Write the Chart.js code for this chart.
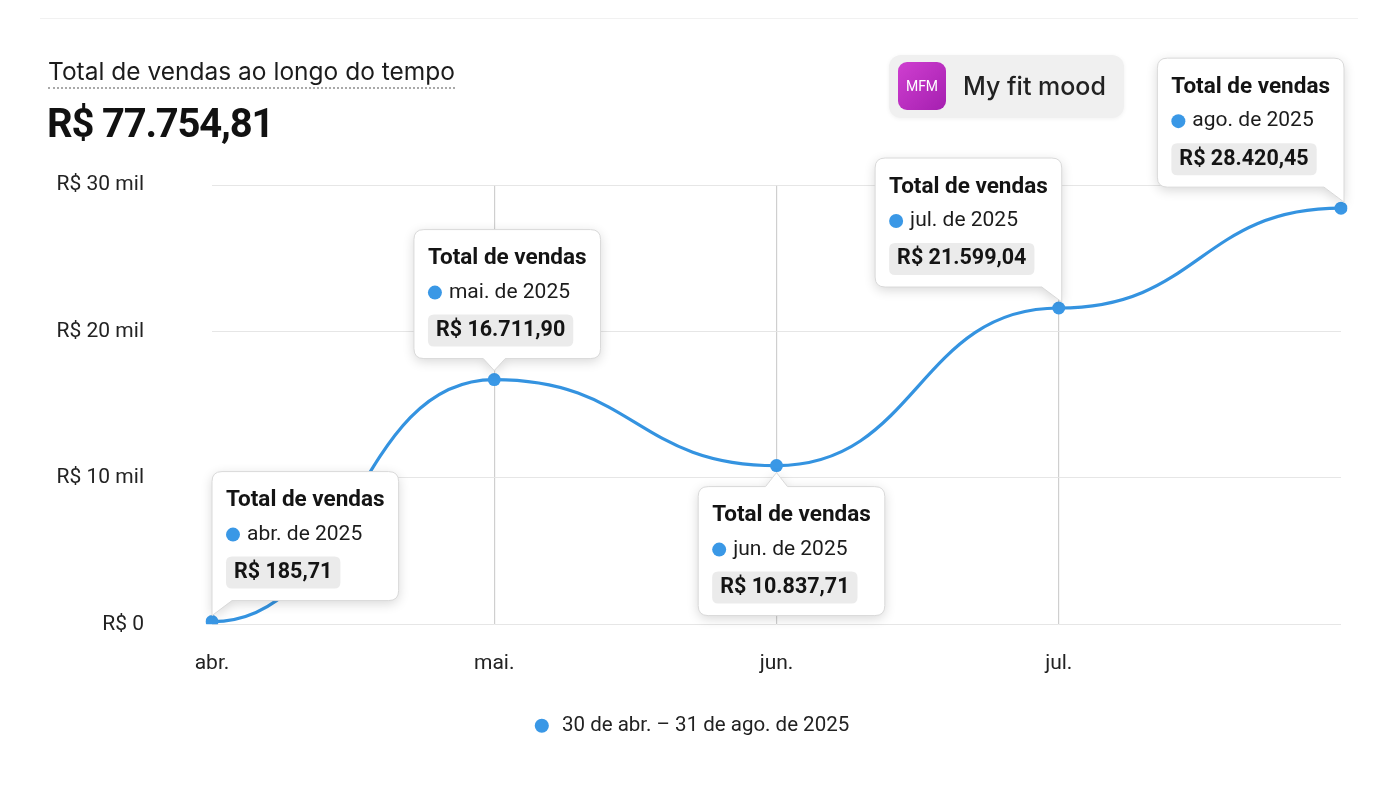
<!DOCTYPE html>
<html><head><meta charset="utf-8">
<script src="https://cdn.jsdelivr.net/npm/chart.js@4"></script>
<style>
html,body{margin:0;padding:0;background:#fff;}
body{width:1400px;height:788px;position:relative;overflow:hidden;font-family:Roboto,"Noto Sans",sans-serif;}
#card{position:absolute;left:40px;top:18px;width:1318px;height:760px;border-top:1px solid #f1f1f1;}
#wrap{position:absolute;left:0;top:0;width:1400px;height:788px;}
.title{position:absolute;left:48px;top:57px;font-family:Inter,Roboto,sans-serif;font-size:24.5px;color:#1c1c1c;border-bottom:2px dotted #a9a9a9;padding-bottom:2px;line-height:28px;}
.total{position:absolute;left:47px;top:100px;font-size:40px;font-weight:700;color:#111;letter-spacing:-1.2px;line-height:48px;}
.badge{position:absolute;left:889px;top:55px;width:235px;height:63px;background:#f0f0f0;border-radius:12px;box-shadow:0 1px 4px rgba(0,0,0,0.06);}
.badge .icon{position:absolute;left:9px;top:7px;width:48px;height:48px;border-radius:9px;background:linear-gradient(135deg,#cf3fd0,#a51fb0);color:#fff;font-size:14px;line-height:48px;text-align:center;}
.badge .name{position:absolute;left:74px;top:0;line-height:63px;font-family:Inter,Roboto,sans-serif;font-size:25px;color:#222;font-weight:500;}
</style></head>
<body>
<div id="card"></div>
<div id="wrap"><canvas id="c" width="1400" height="788"></canvas></div>
<div class="title">Total de vendas ao longo do tempo</div>
<div class="total">R$ 77.754,81</div>
<div class="badge"><div class="icon">MFM</div><div class="name">My fit mood</div></div>
<script>
const categories = ['abr. de 2025','mai. de 2025','jun. de 2025','jul. de 2025','ago. de 2025'];
const xTickLabels = ['abr.','mai.','jun.','jul.',''];
const salesValues = [185.71, 16711.90, 10837.71, 21599.04, 28420.45];
const yTickValues = [0, 10000, 20000, 30000];
const yTickLabels = ['R$ 0','R$ 10 mil','R$ 20 mil','R$ 30 mil'];
const seriesTitle = 'Total de vendas';
const legendLabel = '30 de abr. – 31 de ago. de 2025';

const tooltipPlacement = ['left-above','center-above','center-below','right-above','right-above'];

function brl(v){
  const parts = v.toFixed(2).split('.');
  const int = parts[0].replace(/\B(?=(\d{3})+(?!\d))/g,'.');
  return 'R$ ' + int + ',' + parts[1];
}

const BLUE = '#3a98e6';
const LINE = '#3493e0';
const FONT = 'Roboto, "Noto Sans", sans-serif';

function roundRectPath(ctx,x,y,w,h,r){
  ctx.beginPath();
  ctx.moveTo(x+r,y);ctx.lineTo(x+w-r,y);ctx.quadraticCurveTo(x+w,y,x+w,y+r);
  ctx.lineTo(x+w,y+h-r);ctx.quadraticCurveTo(x+w,y+h,x+w-r,y+h);
  ctx.lineTo(x+r,y+h);ctx.quadraticCurveTo(x,y+h,x,y+h-r);
  ctx.lineTo(x,y+r);ctx.quadraticCurveTo(x,y,x+r,y);ctx.closePath();
}

function boxPath(ctx,x,y,w,h,r,mode,px,tip){
  const b=y+h, R=x+w;
  ctx.beginPath();
  ctx.moveTo(x+r,y);
  if(mode==='center-below'){ctx.lineTo(px-11,y);ctx.lineTo(px,tip);ctx.lineTo(px+11,y);}
  ctx.lineTo(R-r,y);ctx.quadraticCurveTo(R,y,R,y+r);
  if(mode==='right-above'){ctx.lineTo(R,tip);ctx.lineTo(R-20,b);}
  else {ctx.lineTo(R,b-r);ctx.quadraticCurveTo(R,b,R-r,b);}
  if(mode==='center-above'){ctx.lineTo(px+11,b);ctx.lineTo(px,tip);ctx.lineTo(px-11,b);}
  if(mode==='left-above'){ctx.lineTo(x+20,b);ctx.lineTo(x,tip);}
  else {ctx.lineTo(x+r,b);ctx.quadraticCurveTo(x,b,x,b-r);}
  ctx.lineTo(x,y+r);ctx.quadraticCurveTo(x,y,x+r,y);
  ctx.closePath();
}

const bumpPlugin = {
  id:'bumpCurve',
  beforeDatasetsDraw(chart){
    const meta=chart.getDatasetMeta(0);
    meta.dataset.updateControlPoints(chart.chartArea);
    const pts=meta.data;
    pts.forEach((p,i)=>{
      const prev=pts[i-1], next=pts[i+1];
      if(prev){p.cp1x=p.x-(p.x-prev.x)*0.5;p.cp1y=p.y;}
      if(next){p.cp2x=p.x+(next.x-p.x)*0.5;p.cp2y=p.y;}
    });
  }
};

const tipPlugin = {
  id:'staticTips',
  afterDatasetsDraw(chart){
    const ctx=chart.ctx;
    const meta=chart.getDatasetMeta(0);
    meta.data.forEach((pt,i)=>{
      const px=pt.x, py=pt.y, mode=tooltipPlacement[i];
      ctx.save();
      ctx.font='700 22.5px '+FONT;
      const tW=ctx.measureText(seriesTitle).width;
      const valTxt=brl(salesValues[i]);
      ctx.font='700 21.5px '+FONT;
      const vW=ctx.measureText(valTxt).width;
      ctx.font='400 21px '+FONT;
      const dW=ctx.measureText(categories[i]).width;
      const pad=14;
      const w=Math.max(tW, 21+dW, vW+16)+pad*2;
      const h=129, gap=21;
      let x,y,tip;
      if(mode==='left-above'){x=px;y=py-gap-h;tip=py-6;}
      else if(mode==='right-above'){x=px-w+3;y=py-gap-h;tip=py-6;}
      else if(mode==='center-above'){x=px-w/2+13;y=py-gap-h;tip=py-9;}
      else {x=px-w/2+15;y=py+gap;tip=py+7;}
      ctx.shadowColor='rgba(0,0,0,0.16)';ctx.shadowBlur=12;ctx.shadowOffsetY=3;
      boxPath(ctx,x,y,w,h,10,mode,px,tip);
      ctx.fillStyle='#fff';ctx.fill();
      ctx.shadowColor='transparent';
      ctx.strokeStyle='#d9d9d9';ctx.lineWidth=1;ctx.stroke();
      ctx.textBaseline='middle';ctx.textAlign='left';
      ctx.fillStyle='#141414';ctx.font='700 22.5px '+FONT;
      ctx.fillText(seriesTitle,x+pad,y+29);
      ctx.beginPath();ctx.arc(x+pad+7,y+63,7,0,Math.PI*2);ctx.fillStyle=BLUE;ctx.fill();
      ctx.fillStyle='#1c1c1c';ctx.font='400 21px '+FONT;
      ctx.fillText(categories[i],x+pad+21,y+63);
      roundRectPath(ctx,x+pad,y+85,vW+16,32,6);ctx.fillStyle='#ebebeb';ctx.fill();
      ctx.fillStyle='#141414';ctx.font='700 21.5px '+FONT;
      ctx.fillText(valTxt,x+pad+8,y+101);
      ctx.restore();
    });
  }
};

new Chart(document.getElementById('c'),{
  type:'line',
  data:{labels:categories,datasets:[{
    label:legendLabel,data:salesValues,borderColor:LINE,backgroundColor:BLUE,borderWidth:3.2,
    pointRadius:6.5,pointBackgroundColor:BLUE,pointBorderWidth:0,pointStyle:'circle',
    tension:0.4,fill:false
  }]},
  options:{
    responsive:false,animation:false,events:[],
    layout:{padding:{left:40,right:59,top:185,bottom:42}},
    scales:{
      x:{offset:false,border:{display:false},
        grid:{drawTicks:false,color:(c)=> (c.index>=1&&c.index<=3)?'#cfcfcf':'rgba(0,0,0,0)',lineWidth:1.2},
        ticks:{padding:27,color:'#222',font:{family:FONT,size:21},maxRotation:0,autoSkip:false,
          callback:(v,i)=>xTickLabels[i]}},
      y:{min:0,max:30000,border:{display:false},
        afterBuildTicks:(s)=>{s.ticks=yTickValues.map(v=>({value:v}));},
        afterFit:(s)=>{s.width=172;},
        grid:{drawTicks:false,color:'#e6e6e6'},
        ticks:{padding:68,color:'#222',font:{family:FONT,size:21},
          callback:(v)=>yTickLabels[yTickValues.indexOf(v)]}}
    },
    plugins:{
      tooltip:{enabled:false},
      legend:{position:'bottom',labels:{usePointStyle:true,pointStyle:'circle',boxWidth:20,boxHeight:10,
        color:'#222',font:{family:FONT,size:20.5},padding:12,
        generateLabels:(chart)=>chart.data.datasets.map((d,i)=>({text:d.label,fillStyle:BLUE,strokeStyle:BLUE,lineWidth:0,pointStyle:'circle',datasetIndex:i,fontColor:'#222'}))}}
    }
  },
  plugins:[bumpPlugin,tipPlugin]
});
</script>
</body></html>
